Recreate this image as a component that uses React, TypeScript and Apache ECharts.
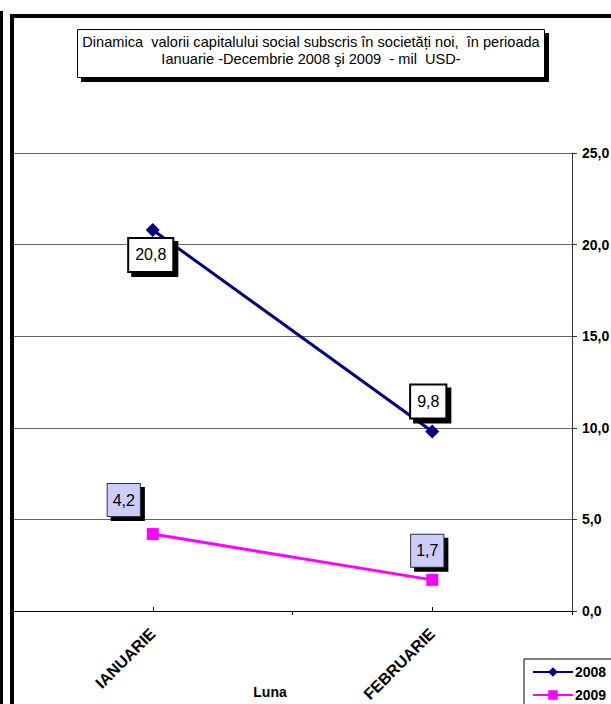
import React, { useEffect, useRef } from "react";
import * as echarts from "echarts";

const categories = ["IANUARIE", "FEBRUARIE"];
const series2008 = [20.8, 9.8];
const series2009 = [4.2, 1.7];
const seriesNames = ["2008", "2009"];
const yMin = 0;
const yMax = 25;
const yStep = 5;
const titleLines = [
  "Dinamica  valorii capitalului social subscris în societăți noi,  în perioada",
  "Ianuarie -Decembrie 2008 şi 2009  - mil  USD-",
];
const xAxisName = "Luna";

// label placement (style, not data)
const offsets2008: [number, number][] = [[-2, 25], [-4, -30]];
const offsets2009: [number, number][] = [[-29, -34], [-5, -29]];

const FONT = "Liberation Sans, Arial, sans-serif";
const fmt = (v: number) => v.toFixed(1).replace(".", ",");

const CHART_W = 660;
const CHART_H = 760;

export default function App() {
  const ref = useRef<HTMLDivElement>(null);
  useEffect(() => {
    const chart = echarts.init(ref.current!, null, { renderer: "svg" });
    const label2008 = {
      show: true,
      position: "inside",
      formatter: (p: any) => fmt(p.value),
      fontFamily: FONT,
      fontSize: 16,
      color: "#000",
      backgroundColor: "#fff",
      borderColor: "#000",
      borderWidth: 2,
      padding: [8, 6, 8, 6],
      shadowColor: "#000",
      shadowOffsetX: 4,
      shadowOffsetY: 4,
      shadowBlur: 0,
    };
    const label2009 = {
      ...label2008,
      backgroundColor: "#CCCCFF",
      borderColor: "#333",
      borderWidth: 1,
      padding: [8, 5, 8, 5],
    };
    const option: any = {
      animation: false,
      backgroundColor: "#fff",
      textStyle: { fontFamily: FONT },
      grid: { left: 13, right: CHART_W - 572, top: 153, bottom: CHART_H - 611, containLabel: false },
      legend: {
        data: seriesNames,
        orient: "vertical",
        left: 524,
        top: 659,
        padding: [6, 40, 6, 8],
        itemWidth: 40,
        itemHeight: 12,
        itemGap: 9,
        borderColor: "#000",
        borderWidth: 1,
        backgroundColor: "#fff",
        textStyle: { fontFamily: FONT, fontWeight: "bold", fontSize: 14, color: "#000", padding: [0, 0, 0, -3] },
      },
      xAxis: [
        {
          type: "category",
          data: categories,
          boundaryGap: true,
          position: "bottom",
          axisLine: { show: true, lineStyle: { color: "#000", width: 1 } },
          axisTick: { show: true, alignWithLabel: true, inside: true, length: 4, lineStyle: { color: "#000" } },
          axisLabel: {
            rotate: 45,
            margin: 20,
            fontFamily: FONT,
            fontWeight: "bold",
            fontSize: 16,
            color: "#000",
          },
          splitLine: { show: false },
        },
        {
          type: "category",
          data: categories,
          boundaryGap: true,
          position: "bottom",
          axisLine: { show: false },
          axisTick: { show: true, inside: false, length: 4, lineStyle: { color: "#000" } },
          axisLabel: { show: false },
          splitLine: { show: false },
        },
      ],
      yAxis: {
        type: "value",
        position: "right",
        min: yMin,
        max: yMax,
        interval: yStep,
        axisLine: { show: true, lineStyle: { color: "#333", width: 1 } },
        axisTick: { show: true, inside: false, length: 5, lineStyle: { color: "#333" } },
        axisLabel: {
          margin: 10,
          formatter: (v: number) => fmt(v),
          fontFamily: FONT,
          fontWeight: "bold",
          fontSize: 14,
          color: "#000",
        },
        splitLine: { show: true, lineStyle: { color: "#666", width: 1 } },
      },
      graphic: [
        { type: "rect", shape: { x: 0, y: 11, width: 3, height: 760 }, style: { fill: "#000" }, z: 100 },
        {
          type: "rect",
          shape: { x: 12, y: 16, width: 700, height: 800 },
          style: { fill: "none", stroke: "#000", lineWidth: 4 },
          z: 100,
        },
        { type: "rect", shape: { x: 81, y: 33, width: 468, height: 49 }, style: { fill: "#000" }, z: 100 },
        {
          type: "rect",
          shape: { x: 77.5, y: 29.5, width: 467, height: 48 },
          style: { fill: "#fff", stroke: "#000", lineWidth: 1 },
          z: 101,
        },
        {
          type: "text",
          x: 311,
          y: 42,
          style: {
            text: titleLines[0],
            fontFamily: FONT,
            fontSize: 14.6,
            fill: "#000",
            align: "center",
            verticalAlign: "middle",
          },
          z: 102,
        },
        {
          type: "text",
          x: 311,
          y: 59,
          style: {
            text: titleLines[1],
            fontFamily: FONT,
            fontSize: 14.6,
            fill: "#000",
            align: "center",
            verticalAlign: "middle",
          },
          z: 102,
        },
        {
          type: "text",
          x: 270,
          y: 692,
          style: {
            text: xAxisName,
            fontFamily: FONT,
            fontSize: 14,
            fontWeight: "bold",
            fill: "#000",
            align: "center",
            verticalAlign: "middle",
          },
          z: 102,
        },
      ],
      series: [
        {
          name: seriesNames[0],
          type: "line",
          xAxisIndex: 0,
          data: series2008.map((v, i) => ({ value: v, label: { offset: offsets2008[i] } })),
          symbol: "diamond",
          symbolSize: 14,
          lineStyle: { color: "#000080", width: 3 },
          itemStyle: { color: "#000080" },
          label: label2008,
          z: 3,
        },
        {
          name: seriesNames[1],
          type: "line",
          xAxisIndex: 0,
          data: series2009.map((v, i) => ({ value: v, label: { offset: offsets2009[i] } })),
          symbol: "rect",
          symbolSize: 12,
          lineStyle: { color: "#FF00FF", width: 3 },
          itemStyle: { color: "#FF00FF" },
          label: label2009,
          z: 3,
        },
      ],
    };
    chart.setOption(option);
    return () => chart.dispose();
  }, []);
  return (
    <div
      style={{
        position: "fixed",
        left: 0,
        top: 0,
        width: 611,
        height: 704,
        overflow: "hidden",
        background: "#fff",
      }}
    >
      <div ref={ref} style={{ width: CHART_W, height: CHART_H }} />
    </div>
  );
}
